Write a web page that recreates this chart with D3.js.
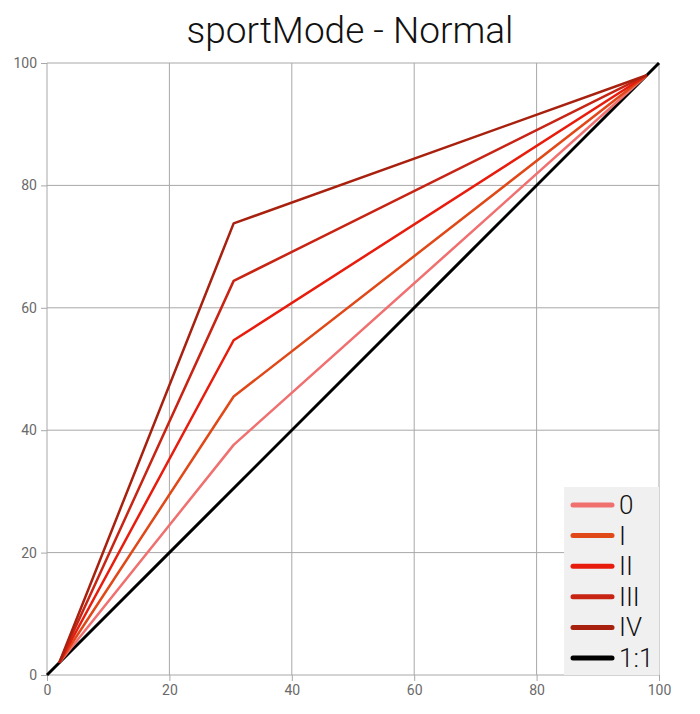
<!DOCTYPE html>
<html>
<head>
<meta charset="utf-8">
<script src="https://cdn.jsdelivr.net/npm/d3@7"></script>
<style>
  body { margin: 0; background: #fff; }
  .tick text { font-family: Roboto, sans-serif; font-size: 14px; fill: #6a6a6a; }
</style>
</head>
<body>
<div id="chart"></div>
<script>
const seriesNames = ['0', 'I', 'II', 'III', 'IV'];
const xValues = [2, 30.5, 98];
const yValues = [
    [2, 37.6, 98],
    [2, 45.5, 98],
    [2, 54.7, 98],
    [2, 64.4, 98],
    [2, 73.8, 98]
];
const identityX = [0, 100];
const identityY = [0, 100];
const tickValues = [0, 20, 40, 60, 80, 100];
const colors = ['#f07070', '#e04818', '#e81c0c', '#c82414', '#a8200e'];

const WIDTH = 700;
const HEIGHT = 714;
const MARGINS = { top: 63, right: 41, bottom: 39, left: 47 };

const svg = d3
    .select('#chart')
    .append('svg')
    .attr('width', WIDTH)
    .attr('height', HEIGHT);

const xScale = d3
    .scaleLinear()
    .domain([0, 100])
    .range([MARGINS.left, WIDTH - MARGINS.right]);
const yScale = d3
    .scaleLinear()
    .domain([0, 100])
    .range([HEIGHT - MARGINS.bottom, MARGINS.top]);

// grid
const grid = svg.append('g');
grid.selectAll('.vgrid')
    .data(tickValues)
    .join('line')
    .attr('x1', (d) => xScale(d))
    .attr('x2', (d) => xScale(d))
    .attr('y1', yScale(0))
    .attr('y2', yScale(100))
    .attr('stroke', '#a8a8a8')
    .attr('stroke-width', 1);
grid.selectAll('.hgrid')
    .data(tickValues)
    .join('line')
    .attr('y1', (d) => yScale(d))
    .attr('y2', (d) => yScale(d))
    .attr('x1', xScale(0))
    .attr('x2', xScale(100))
    .attr('stroke', '#a8a8a8')
    .attr('stroke-width', 1);

// axes
const xAxis = d3.axisBottom(xScale).tickValues(tickValues).tickSize(6).tickPadding(4);
const yAxis = d3.axisLeft(yScale).tickValues(tickValues).tickSize(6).tickPadding(4);
const xAxisEl = svg.append('g')
    .attr('transform', `translate(0, ${yScale(0)})`)
    .call(xAxis);
const yAxisEl = svg.append('g')
    .attr('transform', `translate(${xScale(0)}, 0)`)
    .call(yAxis);
[xAxisEl, yAxisEl].forEach((el) => {
    el.select('.domain').remove();
    el.selectAll('.tick line').attr('stroke', '#a8a8a8');
});

// series lines
const line = d3.line()
    .x((d) => xScale(d[0]))
    .y((d) => yScale(d[1]));

svg.append('path')
    .datum(identityX.map((x, i) => [x, identityY[i]]))
    .attr('d', line)
    .attr('fill', 'none')
    .attr('stroke', '#000')
    .attr('stroke-width', 3);

seriesNames.forEach((name, s) => {
    svg.append('path')
        .datum(xValues.map((x, i) => [x, yValues[s][i]]))
        .attr('d', line)
        .attr('fill', 'none')
        .attr('stroke', colors[s])
        .attr('stroke-width', 2.5)
        .attr('stroke-linejoin', 'round');
});

// title
svg.append('text')
    .attr('x', WIDTH / 2)
    .attr('y', 43)
    .attr('text-anchor', 'middle')
    .attr('font-family', 'Roboto, sans-serif')
    .attr('font-size', 37)
    .attr('font-weight', 300)
    .attr('fill', '#111')
    .text('sportMode - Normal');

// legend
const legendItems = seriesNames.map((n, i) => ({ name: n, color: colors[i] }))
    .concat([{ name: '1:1', color: '#000' }]);
const legend = svg.append('g');
legend.append('rect')
    .attr('x', 564)
    .attr('y', 487)
    .attr('width', xScale(100) - 564)
    .attr('height', yScale(0) - 487)
    .attr('fill', '#f0f0f0');
legendItems.forEach((item, i) => {
    const cy = 505 + i * 30.6;
    legend.append('line')
        .attr('x1', 573)
        .attr('x2', 612)
        .attr('y1', cy)
        .attr('y2', cy)
        .attr('stroke', item.color)
        .attr('stroke-width', 5)
        .attr('stroke-linecap', 'round');
    legend.append('text')
        .attr('x', 619)
        .attr('y', cy + 9)
        .attr('font-family', 'Roboto, sans-serif')
        .attr('font-size', 26)
        .attr('font-weight', 300)
        .attr('fill', '#111')
        .text(item.name);
});
</script>
</body>
</html>
